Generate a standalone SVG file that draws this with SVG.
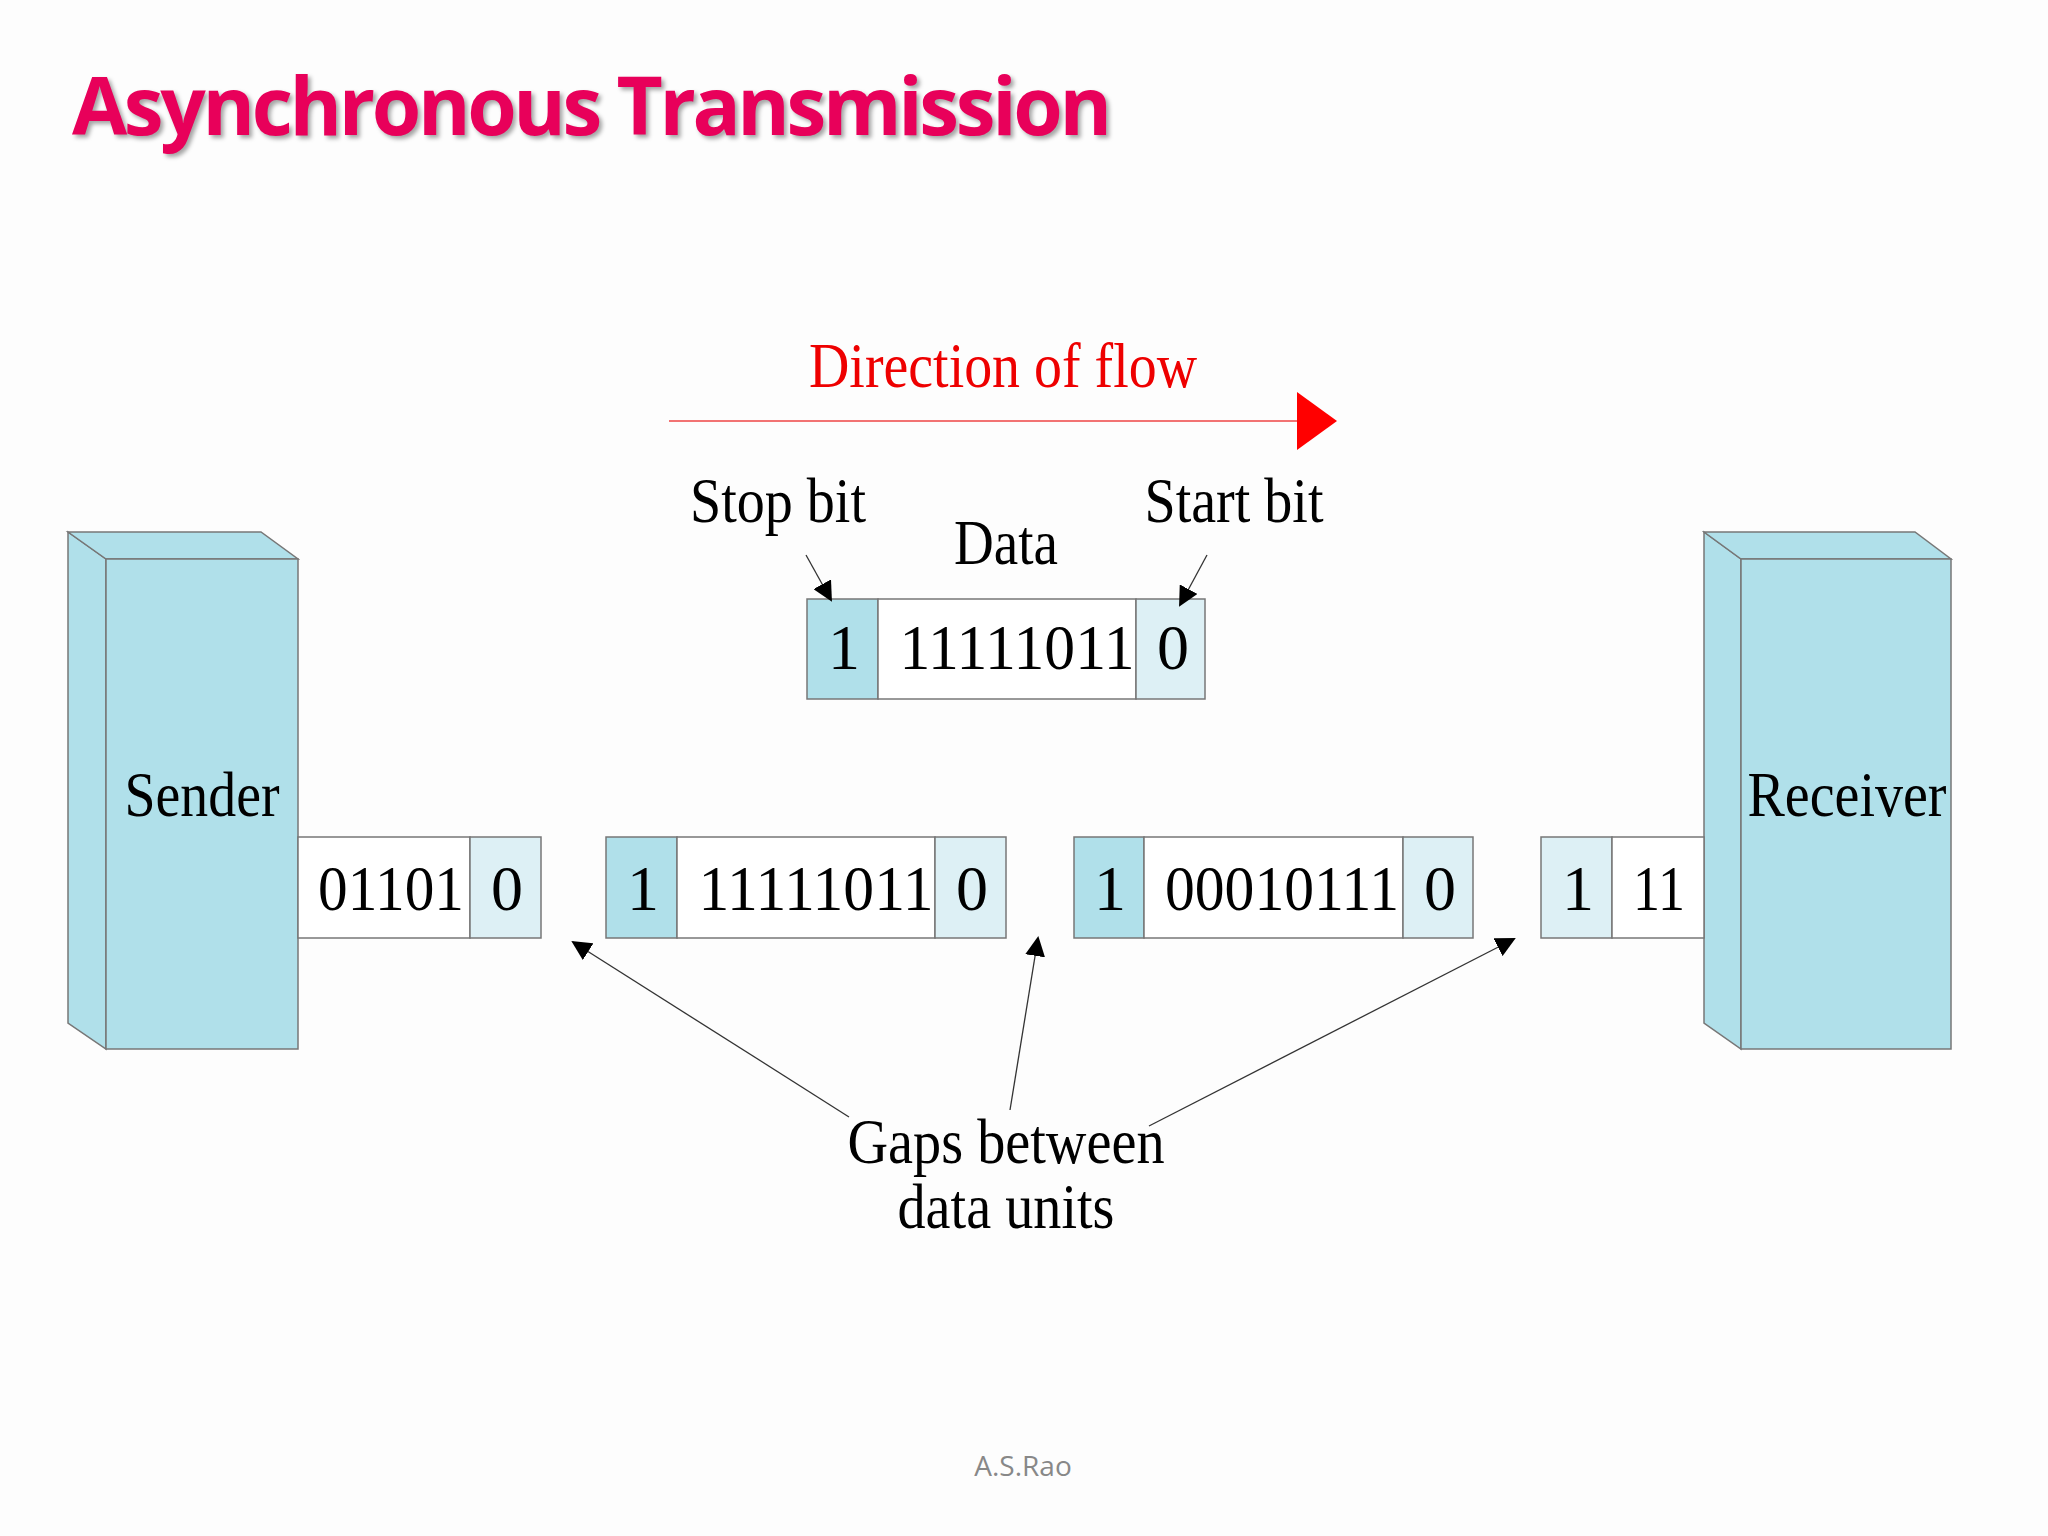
<svg xmlns="http://www.w3.org/2000/svg" width="2048" height="1536" viewBox="0 0 2048 1536">
<style>
.t{font-family:"Liberation Serif",serif;font-size:64px;fill:#000;text-anchor:middle}
.b{fill:#b0e0ea;stroke:#777;stroke-width:1.5}
.l{fill:#ddf0f5;stroke:#777;stroke-width:1.5}
.w{fill:#fff;stroke:#777;stroke-width:1.5}
.c{stroke:#333;stroke-width:1.3;fill:none}
</style>
<defs>
<marker id="ah" viewBox="0 0 10 10" refX="9" refY="5" markerWidth="20" markerHeight="20" markerUnits="userSpaceOnUse" orient="auto"><path d="M0,0L10,5L0,10z" fill="#000"/></marker>
</defs>
<rect width="2048" height="1536" fill="#fdfdfd"/>
<text x="72" y="135" font-family="'Open Sans','Liberation Sans',sans-serif" font-weight="bold" font-size="80" fill="#e8005a" textLength="1040" style="filter:drop-shadow(3px 3px 2px rgba(0,0,0,0.35))">Asynchronous Transmission</text>
<g id="flow">
<text x="1003" y="387" class="t" style="fill:#e00" textLength="388" lengthAdjust="spacingAndGlyphs">Direction of flow</text>
<line x1="669" y1="421" x2="1300" y2="421" stroke="#e44" stroke-width="1.5"/>
<path d="M1297,392L1337,421L1297,450z" fill="#f00"/>
</g>
<g id="sender">
<path class="b" d="M68,532L106,559L106,1049L68,1023z"/>
<path class="b" d="M68,532L261,532L298,559L106,559z"/>
<rect class="b" x="106" y="559" width="192" height="490"/>
<text class="t" x="202" y="816" textLength="155" lengthAdjust="spacingAndGlyphs">Sender</text>
</g>
<g id="receiver">
<path class="b" d="M1704,532L1741,559L1741,1049L1704,1023z"/>
<path class="b" d="M1704,532L1915,532L1951,559L1741,559z"/>
<rect class="b" x="1741" y="559" width="210" height="490"/>
<text class="t" x="1847" y="816" textLength="199" lengthAdjust="spacingAndGlyphs">Receiver</text>
</g>
<g id="frame-top">
<rect class="b" x="807" y="599" width="71" height="100"/>
<rect class="w" x="878" y="599" width="258" height="100"/>
<rect class="l" x="1136" y="599" width="69" height="100"/>
<text class="t" x="844" y="669">1</text>
<text class="t" x="1017" y="669" textLength="235" lengthAdjust="spacingAndGlyphs">11111011</text>
<text class="t" x="1173" y="669">0</text>
<text class="t" x="778" y="522" textLength="176" lengthAdjust="spacingAndGlyphs">Stop bit</text>
<text class="t" x="1006" y="564" textLength="104" lengthAdjust="spacingAndGlyphs">Data</text>
<text class="t" x="1234" y="522" textLength="179" lengthAdjust="spacingAndGlyphs">Start bit</text>
</g>
<g id="frame1">
<rect class="w" x="298" y="837" width="172" height="101"/>
<rect class="l" x="470" y="837" width="71" height="101"/>
<text class="t" x="391" y="910" textLength="146" lengthAdjust="spacingAndGlyphs">01101</text>
<text class="t" x="507" y="910">0</text>
</g>
<g id="frame2">
<rect class="b" x="606" y="837" width="71" height="101"/>
<rect class="w" x="677" y="837" width="258" height="101"/>
<rect class="l" x="935" y="837" width="71" height="101"/>
<text class="t" x="643" y="910">1</text>
<text class="t" x="816" y="910" textLength="235" lengthAdjust="spacingAndGlyphs">11111011</text>
<text class="t" x="972" y="910">0</text>
</g>
<g id="frame3">
<rect class="b" x="1074" y="837" width="70" height="101"/>
<rect class="w" x="1144" y="837" width="259" height="101"/>
<rect class="l" x="1403" y="837" width="70" height="101"/>
<text class="t" x="1110" y="910">1</text>
<text class="t" x="1282" y="910" textLength="234" lengthAdjust="spacingAndGlyphs">00010111</text>
<text class="t" x="1440" y="910">0</text>
</g>
<g id="frame4">
<rect class="l" x="1541" y="837" width="71" height="101"/>
<rect class="w" x="1612" y="837" width="92" height="101"/>
<text class="t" x="1578" y="910">1</text>
<text class="t" x="1659" y="910" textLength="52" lengthAdjust="spacingAndGlyphs">11</text>
</g>
<g id="gaps">
<text class="t" x="1006" y="1163" textLength="317" lengthAdjust="spacingAndGlyphs">Gaps between</text>
<text class="t" x="1006" y="1228" textLength="217" lengthAdjust="spacingAndGlyphs">data units</text>
</g>
<g id="connectors">
<line class="c" x1="806" y1="555" x2="831" y2="600" marker-end="url(#ah)"/>
<line class="c" x1="1207" y1="555" x2="1180" y2="605" marker-end="url(#ah)"/>
<line class="c" x1="849" y1="1117" x2="573" y2="942" marker-end="url(#ah)"/>
<line class="c" x1="1010" y1="1110" x2="1038" y2="938" marker-end="url(#ah)"/>
<line class="c" x1="1149" y1="1126" x2="1514" y2="939" marker-end="url(#ah)"/>
</g>
<text x="1023" y="1476" font-family="'Open Sans',sans-serif" font-size="28" fill="#888" text-anchor="middle">A.S.Rao</text>
</svg>
